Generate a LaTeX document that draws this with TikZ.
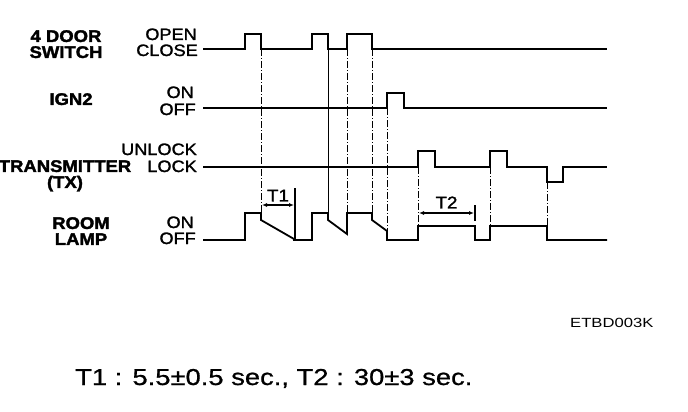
\documentclass[tikz,border=0pt]{standalone}
\usepackage{fontspec}
\setmainfont{Liberation Sans}
\newfontfamily\widefont[FakeStretch=1.1, FakeBold=1.5, BoldFeatures={FakeBold=2}]{Liberation Sans}
\newfontfamily\footfont[FakeStretch=1.19, FakeBold=0.8]{Liberation Sans}
\newfontfamily\codefont[FakeStretch=1.25]{Liberation Sans}
\usepackage{tikz}
\usetikzlibrary{
	arrows.meta,
	positioning,
	calc
}

\begin{document}
\begin{tikzpicture}[
				x=1pt, y=-1pt,
				signal/.style={
					line width=1.8pt, line join=miter
				},
				guide/.style={
					line width=0.7pt, dash pattern=on 7pt off 2pt on 1pt off 2pt
				},
				signame/.style={
					inner sep=0pt, align=center, anchor=north,
					font=\widefont\bfseries\fontsize{16.8}{16}\selectfont
				},
				statelbl/.style={
					inner sep=0pt, anchor=base east,
					font=\widefont\fontsize{16.5}{16}\selectfont
				},
				dim/.style={
					{Latex[length=5pt,width=4pt]}-{Latex[length=5pt,width=4pt]}, line width=1.3pt
				},
				bar/.style={line width=1.2pt}
				]
				\useasboundingbox (0,0) rectangle (688,412);
				
				% signal names
				\node[signame] (door) at (66,30) {4 DOOR\\SWITCH};
				\node[signame] (ign) at (71,93) {IGN2};
				\node[signame] (tx) at (65,160) {TRANSMITTER\\(TX)};
				\node[signame] (lamp) at (81,217) {ROOM\\LAMP};
				
				% levels
				\node[statelbl] (open) at (197,40) {OPEN};
				\node[statelbl] (close) at (198,56) {CLOSE};
				\node[statelbl] (ignOn) at (194,98) {ON};
				\node[statelbl] (ignOff) at (196,115) {OFF};
				\node[statelbl] (unlock) at (197,155) {UNLOCK};
				\node[statelbl] (lock) at (197,172) {LOCK};
				\node[statelbl] (lampOn) at (194,228) {ON};
				\node[statelbl] (lampOff) at (196,244) {OFF};
				
				% door switch
				\draw[signal] (203,49) -- (245,49) -- (245,34) -- (261,34) -- (261,49)
					-- (312,49) -- (312,34) -- (328,34) -- (328,49)
					-- (347,49) -- (347,34) -- (372,34) -- (372,49) -- (607,49);
				
				% ign2
				\draw[signal] (203,108) -- (387,108) -- (387,93) -- (404,93) -- (404,108) -- (607,108);
				
				% transmitter
				\draw[signal] (203,167) -- (418,167) -- (418,151) -- (435,151) -- (435,167)
					-- (490,167) -- (490,151) -- (507,151) -- (507,167)
					-- (547,167) -- (547,182) -- (563,182) -- (563,167) -- (607,167);
				
				% room lamp
				\draw[signal] (203,240) -- (245,240) -- (245,213) -- (261,213) -- (261,220)
					-- (294,239) -- (294,240) -- (312,240) -- (312,213) -- (328,213) -- (328,220)
					-- (347,234) -- (347,213) -- (372,213) -- (372,220) -- (387,231) -- (387,240)
					-- (418,240) -- (418,226) -- (475,226) -- (475,240)
					-- (490,240) -- (490,226) -- (547,226) -- (547,240) -- (607,240);
				
				% timing guides
				\draw[guide] (261,49) -- (261,213);
				\draw[line width=1pt] (328,49) -- (328,213);
				\draw[guide] (347,49) -- (347,213);
				\draw[guide] (372,49) -- (372,213);
				\draw[guide] (387,108) -- (387,231);
				\draw[guide] (418,167) -- (418,226);
				\draw[guide] (490,167) -- (490,226);
				\draw[guide] (547,182) -- (547,226);
				
				% T1
				\coordinate (t1a) at (262,205);
				\coordinate (t1b) at (294,205);
				\coordinate (t1top) at (295,188);
				\coordinate (t1bot) at (295,240);
				\draw[bar] (t1top) -- (t1bot);
				\draw[dim] (t1a) -- (t1b);
				\node[font=\widefont\fontsize{17}{17}\selectfont, above=0pt of $(t1a)!0.5!(t1b)$] (t1) {T1};
				
				% T2
				\coordinate (t2a) at (419,213);
				\coordinate (t2b) at (474,213);
				\coordinate (t2top) at (475,205);
				\coordinate (t2bot) at (475,221);
				\draw[bar] (t2top) -- (t2bot);
				\draw[dim] (t2a) -- (t2b);
				\node[font=\widefont\fontsize{17}{17}\selectfont, above=1pt of $(t2a)!0.5!(t2b)$] (t2) {T2};
				
				% notes
				\node[inner sep=0pt, anchor=base west, font=\codefont\fontsize{13.3}{14}\selectfont] (code) at (570,327) {ETBD003K};
				\node[inner sep=0pt, anchor=base west, font=\footfont\fontsize{23}{23}\selectfont] (note) at (75,385) {T1 : 5.5±0.5 sec., T2 : 30±3 sec.};
			\end{tikzpicture}
\end{document}
